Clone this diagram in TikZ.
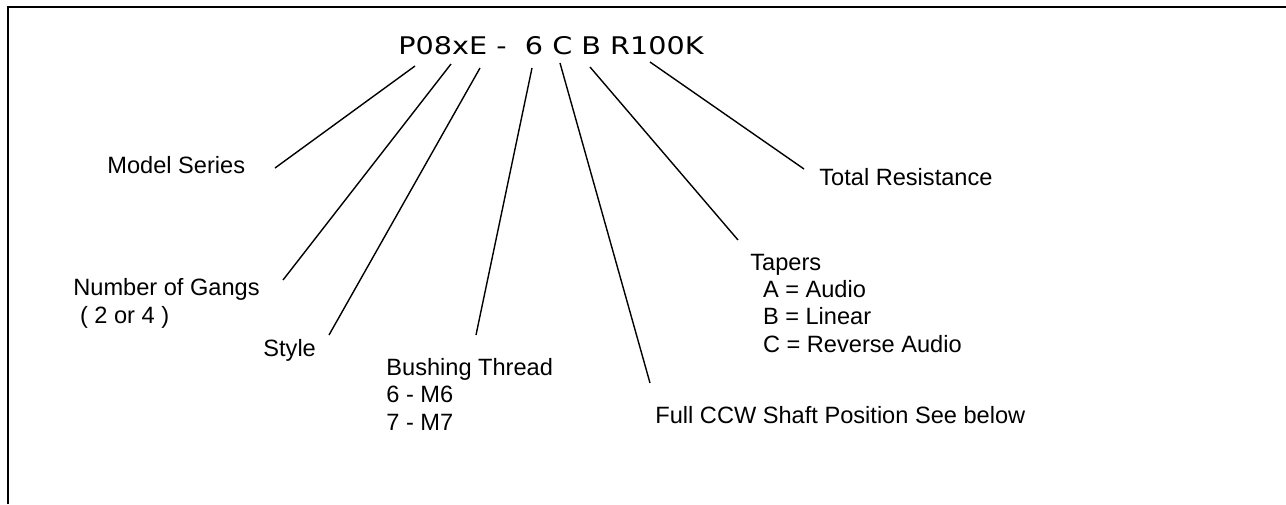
\documentclass[tikz,border=0pt]{standalone}
\usepackage{fontspec}
\setmainfont{Liberation Sans}
\newfontfamily\partfont[FakeStretch=1.18]{DejaVu Sans}

\begin{document}
\begin{tikzpicture}[x=0.5pt,y=-0.5pt]
\useasboundingbox (0,0) rectangle (1286,504);
\draw[line width=1pt] (8,504) -- (8,7) -- (1286,7);

\node[anchor=base west,inner sep=0,font=\partfont\fontsize{12.15pt}{14pt}\selectfont]
  (code) at (398,54) {P08xE -\ \ 6 C B R100K};

% base of a multi-line label = baseline of its last line
\begin{scope}[every node/.style={anchor=base west,inner sep=0,align=left,
              font=\fontsize{11.8pt}{13.6pt}\selectfont}]
\node (series) at (107,173) {Model Series};
\node (gangs) at (73,323) {Number of Gangs\\\hspace*{3.3pt}( 2 or 4 )};
\node (style) at (263,356) {Style};
\node (thread) at (386,430) {Bushing Thread\\6 - M6\\7 - M7};
\node (ccw) at (655,423) {Full CCW Shaft Position See below};
\node (tapers) at (750,352) {Tapers\\\hspace*{6.3pt}A = Audio\\\hspace*{6.3pt}B = Linear\\\hspace*{6.3pt}C = Reverse Audio};
\node (total) at (819,185) {Total Resistance};
\end{scope}

% leader ends: top under the part code, bottom beside each label
\coordinate (t1) at (415,66);  \coordinate (b1) at (275,168);
\coordinate (t2) at (451,64);  \coordinate (b2) at (283,280);
\coordinate (t3) at (480,68);  \coordinate (b3) at (329,335);
\coordinate (t4) at (532,68);  \coordinate (b4) at (476,335);
\coordinate (t5) at (560,63);  \coordinate (b5) at (650,383);
\coordinate (t6) at (590,67);  \coordinate (b6) at (738,240);
\coordinate (t7) at (650,62);  \coordinate (b7) at (804,169);

\begin{scope}[every edge/.style={draw=black,line width=0.7pt}]
\path (t1) edge (b1);
\path (t2) edge (b2);
\path (t3) edge (b3);
\path (t4) edge (b4);
\path (t5) edge (b5);
\path (t6) edge (b6);
\path (t7) edge (b7);
\end{scope}
\end{tikzpicture}
\end{document}
